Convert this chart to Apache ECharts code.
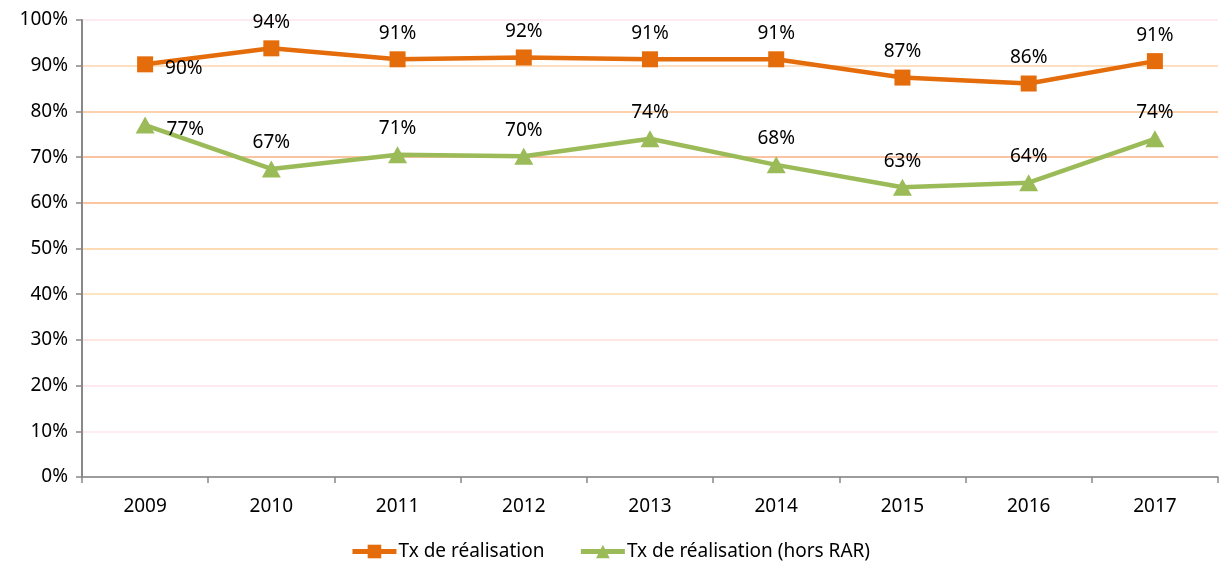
<!DOCTYPE html>
<html>
<head>
<meta charset="utf-8">
<script src="https://cdn.jsdelivr.net/npm/echarts@6/dist/echarts.min.js"></script>
<style>
  html, body { margin: 0; padding: 0; background: #fff; }
  #chart { width: 1220px; height: 568px; }
</style>
</head>
<body>
<div id="chart"></div>
<script>
const years = ['2009', '2010', '2011', '2012', '2013', '2014', '2015', '2016', '2017']
const txRealisation = [90.3, 93.8, 91.4, 91.8, 91.4, 91.4, 87.4, 86.1, 91.0]
const txHorsRar = [77.0, 67.4, 70.5, 70.2, 74.0, 68.3, 63.4, 64.4, 74.0]
const seriesNames = ['Tx de réalisation', 'Tx de réalisation (hors RAR)']

// gridline colours from 0% up to 100%
const gridColors = ['#cccccc', '#fde6ef', '#fde2e8', '#fddcd6', '#fddcaa', '#fdcf9c', '#fab27e', '#f9af82', '#fbc390', '#fcd6ad', '#fde4ec']

const font = 'Noto Sans'

const labelFor = function (i) {
  if (i === 0) {
    return { position: 'right', distance: 12, offset: [0, 4] }
  }
  return { position: 'top', distance: 8 }
}

const buildData = function (values) {
  return values.map((v, i) => ({ value: v, label: labelFor(i) }))
}

const myChart = echarts.init(document.getElementById('chart'), null, { renderer: 'canvas' })

myChart.setOption({
  animation: false,
  textStyle: { fontFamily: font },
  grid: { left: 82, right: 2, top: 20, bottom: 91, containLabel: false },
  legend: {
    bottom: 2,
    left: 'center',
    itemWidth: 44,
    itemHeight: 17,
    itemGap: 34,
    lineStyle: { width: 5 },
    textStyle: { fontSize: 19, color: '#000', fontFamily: font, padding: [0, 0, 0, -3] },
    data: seriesNames
  },
  xAxis: {
    type: 'category',
    data: years,
    boundaryGap: true,
    axisLine: { lineStyle: { color: '#888888', width: 1.5 } },
    axisTick: { show: true, length: 6, lineStyle: { color: '#888888', width: 1.5 } },
    axisLabel: { fontSize: 19, color: '#000', margin: 20 }
  },
  yAxis: {
    type: 'value',
    min: 0,
    max: 100,
    interval: 10,
    axisLine: { show: true, lineStyle: { color: '#888888', width: 2 } },
    axisTick: { show: true, length: 6, lineStyle: { color: '#888888', width: 1.5 } },
    axisLabel: { fontSize: 19, color: '#000', margin: 14, formatter: '{value}%' },
    splitLine: { show: true, lineStyle: { color: gridColors, width: 1.5 } }
  },
  series: [
    {
      name: seriesNames[0],
      type: 'line',
      data: buildData(txRealisation),
      symbol: 'rect',
      symbolSize: 16,
      itemStyle: { color: '#E46C0A' },
      lineStyle: { color: '#E46C0A', width: 4.5 },
      label: {
        show: true,
        fontSize: 19,
        color: '#000',
        formatter: p => Math.round(p.value) + '%'
      }
    },
    {
      name: seriesNames[1],
      type: 'line',
      data: buildData(txHorsRar),
      symbol: 'triangle',
      symbolSize: [19, 17],
      itemStyle: { color: '#9BBB59' },
      lineStyle: { color: '#9BBB59', width: 4.5 },
      label: {
        show: true,
        fontSize: 19,
        color: '#000',
        formatter: p => Math.round(p.value) + '%'
      }
    }
  ]
})
</script>
</body>
</html>
